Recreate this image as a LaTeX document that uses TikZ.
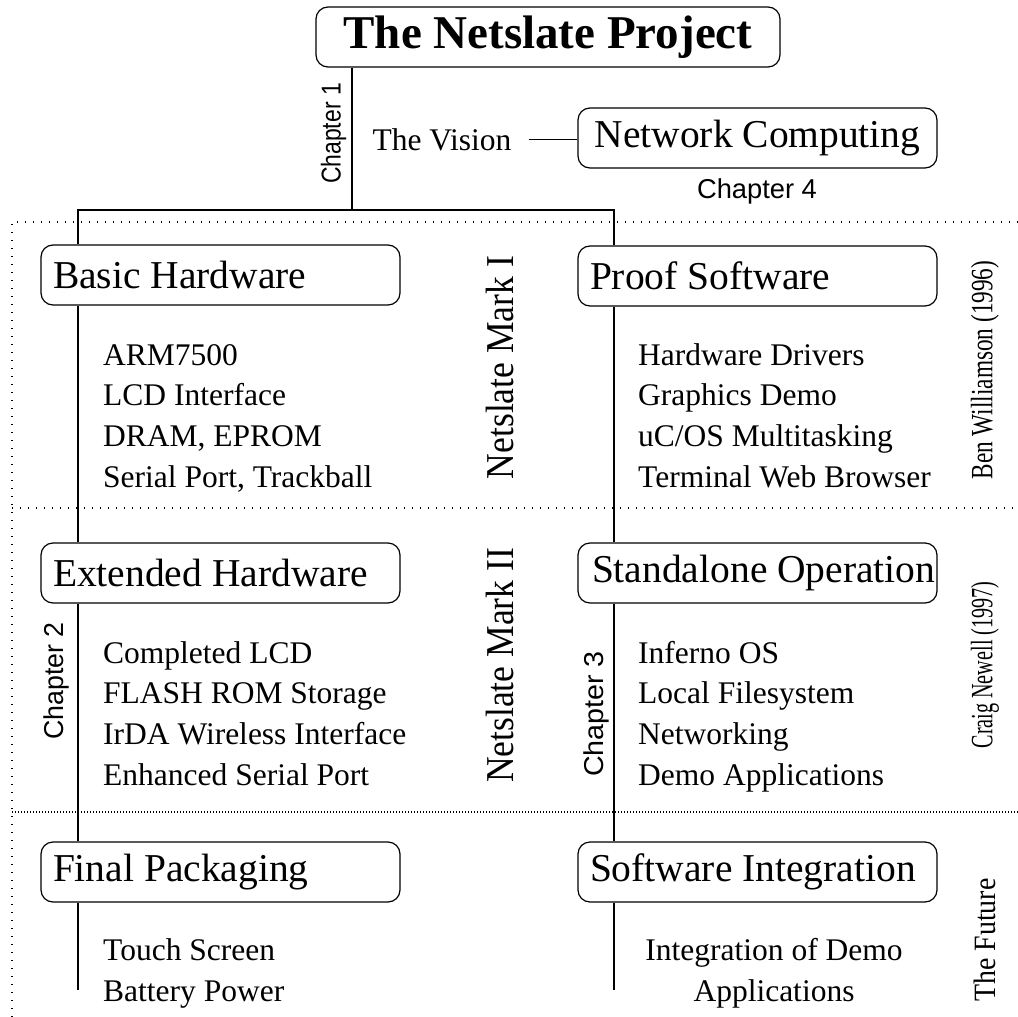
\documentclass[tikz,border=0pt]{standalone}
\usepackage{fontspec}
\setmainfont{Liberation Serif}
\setsansfont{Liberation Sans}

\newcommand{\stagename}[1]{\makebox[335pt][l]{#1}}

\tikzset{
  link/.style={line width=1.2pt},
  sep/.style={line width=1.3pt, dash pattern=on 1.3pt off 6.7pt},
  stage/.style={draw, link, rounded corners=12pt, minimum width=359pt, minimum height=60pt,
    inner xsep=12pt, font=\fontsize{39.5}{47}\selectfont},
  item/.style={anchor=base west, inner sep=0pt, font=\fontsize{31.5}{40}\selectfont},
  chap/.style={rotate=90, font=\sffamily\fontsize{27.3}{30}\selectfont},
  phase/.style={rotate=90, font=\fontsize{39.5}{47}\selectfont},
  who/.style={rotate=90, font=\fontsize{31}{36}\selectfont}
}

\begin{document}
\begin{tikzpicture}[x=1pt,y=-1pt]
\useasboundingbox (0,0) rectangle (1018,1017);

% project title and the vision
\node[draw, link, rounded corners=12pt, minimum width=464pt, minimum height=60pt,
  font=\bfseries\fontsize{47}{54}\selectfont] (title) at (548,37) {The Netslate Project};
\node[item, anchor=base] (vision) at (442,150) {The Vision};
\node[stage] (netcomp) at (757.5,138) {Network Computing};
\node[font=\sffamily\fontsize{27.3}{30}\selectfont] (ch4) at (757,191) {Chapter 4};
\node[chap] (ch1) at (333.5,133.5) {\scalebox{0.84}[1]{Chapter 1}};

% separators
\draw[sep] (12,1017) -- (12,222) -- (1018,222);
\draw[sep] (12,508) -- (1018,508);
\draw[line width=1.1pt, dash pattern=on 1pt off 2pt] (12,812) -- (1018,812);

% stages
\node[stage] (basic) at (220.5,275) {\stagename{Basic Hardware}};
\node[stage] (proof) at (757.5,276) {\stagename{Proof Software}};
\node[stage] (ext) at (220.5,573) {\stagename{Extended Hardware}};
\node[stage, inner xsep=4pt] (stand) at (757.5,573) {\stagename{\hspace{2pt}Standalone Operation}};
\node[stage] (final) at (220.5,872) {\stagename{Final Packaging}};
\node[stage] (integ) at (757.5,872) {\stagename{Software Integration}};

% connectors
\coordinate (fork) at (352,210);
\coordinate (lcol) at (78,210);
\coordinate (rcol) at (614,210);
\coordinate (lend) at (78,990);
\coordinate (rend) at (614,990);
\coordinate (vis) at ([xshift=17pt]vision.east);
\draw[link] (fork |- title.south) -- (fork);
\draw[link] (lcol |- basic.north) -- (lcol) -- (rcol) -- (rcol |- proof.north);
\draw[link] (lcol |- basic.south) -- (lcol |- ext.north);
\draw[link] (lcol |- ext.south) -- (lcol |- final.north);
\draw[link] (lcol |- final.south) -- (lend);
\draw[link] (rcol |- proof.south) -- (rcol |- stand.north);
\draw[link] (rcol |- stand.south) -- (rcol |- integ.north);
\draw[link] (rcol |- integ.south) -- (rend);
\draw[link] (vis) -- (vis -| netcomp.west);

% item lists
\foreach \t [count=\i] in {ARM7500, LCD Interface, {DRAM, EPROM}, {Serial Port, Trackball}}
  \node[item] (bh\i) at (103,365+40.7*\i-40.7) {\t};
\foreach \t [count=\i] in {Hardware Drivers, Graphics Demo, uC/OS Multitasking, Terminal Web Browser}
  \node[item] (ps\i) at (638,365+40.7*\i-40.7) {\t};
\foreach \t [count=\i] in {Completed LCD, FLASH ROM Storage, IrDA Wireless Interface, Enhanced Serial Port}
  \node[item] (eh\i) at (103,663+40.7*\i-40.7) {\t};
\foreach \t [count=\i] in {Inferno OS, Local Filesystem, Networking, Demo Applications}
  \node[item] (so\i) at (638,663+40.7*\i-40.7) {\t};
\foreach \t [count=\i] in {Touch Screen, Battery Power}
  \node[item] (fp\i) at (103,960+41*\i-41) {\t};
\foreach \t [count=\i] in {Integration of Demo, Applications}
  \node[item, anchor=base] (si\i) at (774,960+41*\i-41) {\t};

% side labels
\node[phase] (mk1) at (500,367.5) {\scalebox{0.9}[1]{Netslate Mark I}};
\node[phase] (mk2) at (500,665.5) {\scalebox{0.9}[1]{Netslate Mark II}};
\node[chap] (ch2) at (56,681) {\scalebox{0.98}[1]{Chapter 2}};
\node[chap] (ch3) at (596,714) {\scalebox{1.05}[1]{Chapter 3}};
\node[who] (ben) at (985,370) {\scalebox{0.75}[1]{Ben Williamson (1996)}};
\node[who] (craig) at (985,665) {\scalebox{0.65}[1]{Craig Newell (1997)}};
\node[who] (future) at (985,940) {\scalebox{0.9}[1]{The Future}};
\end{tikzpicture}
\end{document}
